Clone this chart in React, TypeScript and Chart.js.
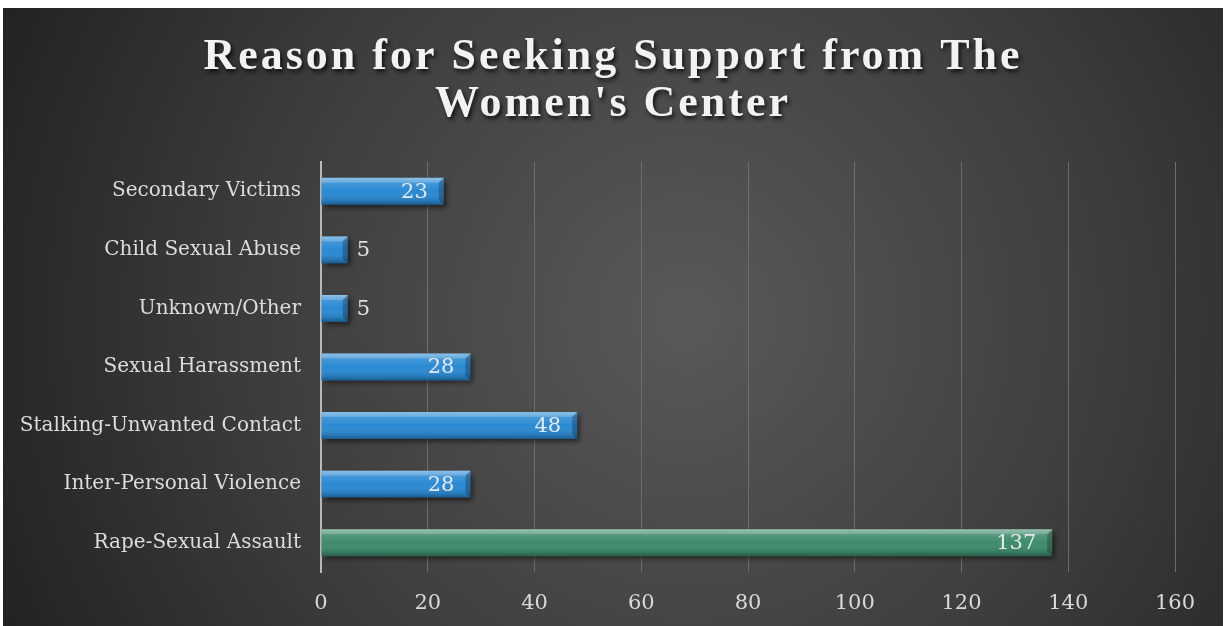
import React, { useEffect, useRef } from "react";
import { Chart, registerables } from "chart.js";

Chart.register(...registerables);

const titleLines = ["Reason for Seeking Support from The", "Women's Center"];
const categories = [
  "Secondary Victims",
  "Child Sexual Abuse",
  "Unknown/Other",
  "Sexual Harassment",
  "Stalking-Unwanted Contact",
  "Inter-Personal Violence",
  "Rape-Sexual Assault",
];
const counts = [23, 5, 5, 28, 48, 28, 137];
const barColors = ["#2b8ad3", "#2b8ad3", "#2b8ad3", "#2b8ad3", "#2b8ad3", "#2b8ad3", "#3f8c6c"];
const xTicks = [0, 20, 40, 60, 80, 100, 120, 140, 160];

const SERIF = "'DejaVu Serif', 'Liberation Serif', serif";

const backgroundPlugin = {
  id: "bgPanel",
  beforeDraw(chart: any) {
    const { ctx, width, height } = chart;
    ctx.save();
    const g = ctx.createRadialGradient(width * 0.56, height * 0.5, 20, width * 0.56, height * 0.5, width * 0.62);
    g.addColorStop(0, "#585858");
    g.addColorStop(0.55, "#3d3d3d");
    g.addColorStop(1, "#222222");
    ctx.fillStyle = g;
    ctx.fillRect(0, 0, width, height);
    ctx.restore();
  },
};

const titlePlugin = {
  id: "spacedTitle",
  afterDraw(chart: any) {
    const { ctx, width } = chart;
    ctx.save();
    ctx.font = `bold 44px ${"'Liberation Serif', serif"}`;
    (ctx as any).letterSpacing = "3px";
    ctx.textAlign = "center";
    ctx.textBaseline = "middle";
    ctx.fillStyle = "#f2f2f2";
    ctx.shadowColor = "rgba(0,0,0,0.75)";
    ctx.shadowOffsetX = 2;
    ctx.shadowOffsetY = 3;
    ctx.shadowBlur = 4;
    const ys = [50, 97];
    titleLines.forEach((t, i) => ctx.fillText(t, width / 2, ys[i]));
    ctx.restore();
  },
};

const barStylePlugin = {
  id: "barStyle",
  beforeDatasetsDraw(chart: any) {
    const ctx = chart.ctx;
    ctx.save();
    ctx.shadowColor = "rgba(0,0,0,0.55)";
    ctx.shadowOffsetX = 3;
    ctx.shadowOffsetY = 3;
    ctx.shadowBlur = 5;
  },
  afterDatasetsDraw(chart: any) {
    const ctx = chart.ctx;
    ctx.restore();
    const meta = chart.getDatasetMeta(0);
    const data = chart.data.datasets[0].data as number[];
    meta.data.forEach((bar: any, i: number) => {
      const { x, y, base, height } = bar.getProps(["x", "y", "base", "height"], true);
      const top = y - height / 2;
      const bottom = y + height / 2;
      const left = Math.min(base, x);
      const w = Math.abs(x - base);
      ctx.save();
      const g = ctx.createLinearGradient(0, top, 0, bottom);
      g.addColorStop(0, "rgba(255,255,255,0.35)");
      g.addColorStop(0.18, "rgba(255,255,255,0.12)");
      g.addColorStop(0.5, "rgba(255,255,255,0)");
      g.addColorStop(0.85, "rgba(0,0,0,0.12)");
      g.addColorStop(1, "rgba(0,0,0,0.35)");
      ctx.fillStyle = g;
      ctx.fillRect(left, top, w, height);
      const bev = Math.min(5, w / 3);
      ctx.beginPath();
      ctx.moveTo(x, top);
      ctx.lineTo(x - bev, top + bev);
      ctx.lineTo(x - bev, bottom - bev);
      ctx.lineTo(x, bottom);
      ctx.closePath();
      ctx.fillStyle = "rgba(0,0,0,0.25)";
      ctx.fill();
      ctx.beginPath();
      ctx.moveTo(left, top);
      ctx.lineTo(x, top);
      ctx.lineTo(x - bev, top + bev);
      ctx.lineTo(left, top + bev);
      ctx.closePath();
      ctx.fillStyle = "rgba(255,255,255,0.18)";
      ctx.fill();
      ctx.restore();

      const v = data[i];
      ctx.save();
      ctx.font = `21px ${SERIF}`;
      ctx.textBaseline = "middle";
      if (w > 40) {
        ctx.textAlign = "right";
        ctx.fillStyle = "#e4e8ee";
        ctx.fillText(String(v), x - 16, y + 1);
      } else {
        ctx.textAlign = "left";
        ctx.fillStyle = "#e0e0e0";
        ctx.fillText(String(v), x + 9, y + 1);
      }
      ctx.restore();
    });
  },
};

export default function App() {
  const canvasRef = useRef<HTMLCanvasElement | null>(null);

  useEffect(() => {
    document.body.style.margin = "0";
    document.body.style.overflow = "hidden";
    const canvas = canvasRef.current;
    if (!canvas) return;
    const chart = new Chart(canvas, {
      type: "bar",
      data: {
        labels: categories,
        datasets: [
          {
            data: counts,
            backgroundColor: barColors,
            borderWidth: 0,
            barPercentage: 0.46,
            categoryPercentage: 1,
          },
        ],
      },
      options: {
        indexAxis: "y",
        animation: false,
        responsive: true,
        maintainAspectRatio: false,
        layout: { padding: { top: 154, right: 48, left: 0, bottom: 0 } },
        plugins: {
          legend: { display: false },
          title: { display: false },
          tooltip: { enabled: false },
        },
        scales: {
          x: {
            type: "linear",
            min: xTicks[0],
            max: xTicks[xTicks.length - 1],
            afterBuildTicks(scale: any) {
              scale.ticks = xTicks.map((v) => ({ value: v }));
            },
            afterFit(scale: any) {
              scale.height = 54;
            },
            grid: { color: "#6d6d6d", lineWidth: 1, drawTicks: false },
            border: { display: false },
            ticks: {
              color: "#d9d9d9",
              font: { family: SERIF, size: 21 },
              padding: 19,
            },
          },
          y: {
            afterFit(scale: any) {
              scale.width = 318;
            },
            grid: { display: false, drawTicks: false },
            border: { display: true, color: "#b8b8b8", width: 2 },
            ticks: {
              color: "#dcdcdc",
              font: { family: SERIF, size: 20 },
              padding: 20,
            },
          },
        },
      },
      plugins: [backgroundPlugin, barStylePlugin, titlePlugin],
    });
    return () => chart.destroy();
  }, []);

  return (
    <div style={{ position: "absolute", left: 3, top: 8, width: 1220, height: 618, background: "#2a2a2a" }}>
      <canvas ref={canvasRef} />
    </div>
  );
}
